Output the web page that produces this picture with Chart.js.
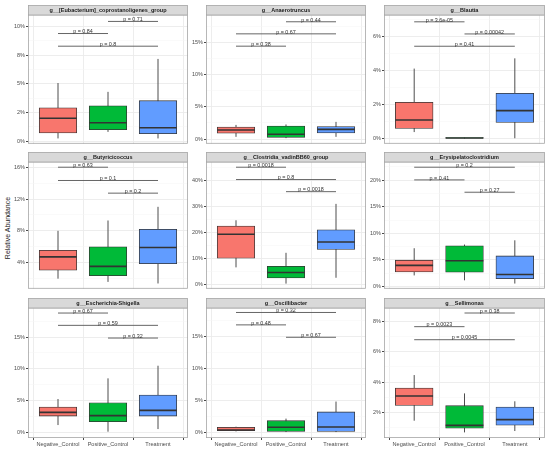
<!DOCTYPE html>
<html><head><meta charset="utf-8">
<script src="https://cdn.jsdelivr.net/npm/chart.js@4"></script>
<style>
html,body{margin:0;padding:0;background:#fff;}
#wrap{position:relative;width:550px;height:451px;overflow:hidden;background:#fff;}
canvas{position:absolute;}
#ytitle{position:absolute;left:7px;top:228px;transform:translate(-50%,-50%) rotate(-90deg);font:7px "Liberation Sans",Arial,sans-serif;color:#222;white-space:nowrap;}
</style></head><body>
<div id="wrap"><div id="ytitle">Relative Abundance</div></div>
<script>
const groups = ["Negative_Control","Positive_Control","Treatment"];
const groupColors = ["#F8766D","#00BA38","#619CFF"];
const panelTitles = [
  "g__[Eubacterium]_coprostanoligenes_group","g__Anaerotruncus","g__Blautia",
  "g__Butyricicoccus","g__Clostridia_vadinBB60_group","g__Erysipelatoclostridium",
  "g__Escherichia-Shigella","g__Oscillibacter","g__Sellimonas"
];
// values in percent, per panel: [Negative_Control, Positive_Control, Treatment]
const whiskerMin = [
  [0.23,0.80,0.23],[0.35,0.15,0.35],[0.38,0.00,0.02],
  [1.94,1.53,1.33],[6.5,0.25,2.5],[2.08,1.16,0.55],
  [1.2,0.16,0.57],[0.2,0.1,0.1],[1.45,0.68,0.77]
];
const quartile1 = [
  [0.71,0.99,0.65],[0.91,0.25,0.96],[0.59,0.00,0.95],
  [3.01,2.31,3.84],[10.0,2.4,13.4],[2.75,2.69,1.47],
  [2.61,1.72,2.61],[0.31,0.2,0.2],[2.46,0.95,1.16]
];
const medians = [
  [1.99,1.59,1.16],[1.41,0.76,1.51],[1.09,0.03,1.64],
  [4.7,3.5,5.89],[19.25,4.5,16.25],[3.98,4.83,2.26],
  [3.19,2.67,3.5],[0.42,0.84,0.89],[3.08,1.14,1.52]
];
const quartile3 = [
  [2.9,3.07,3.52],[1.86,2.01,1.96],[2.13,0.06,2.65],
  [5.52,5.97,8.19],[22.4,6.9,20.9],[4.95,7.65,5.75],
  [4.02,4.7,5.9],[0.84,1.88,3.25],[3.6,2.44,2.35]
];
const whiskerMax = [
  [5.06,4.29,7.16],[2.2,2.27,2.67],[4.1,0.06,4.7],
  [7.99,9.3,11.03],[24.6,12.1,30.9],[7.2,7.89,8.69],
  [5.28,8.52,10.5],[0.94,2.2,4.87],[4.46,3.25,2.73]
];
// comparisons: NC vs PC, NC vs T, PC vs T
const comparisonPairs = [[1,2],[1,3],[2,3]];
const bracketHeight = [
  [9.375,8.27,10.43],[14.4,16.31,18.18],[6.84,5.41,6.13],
  [16.04,14.36,12.76],[45.0,40.25,35.6],[20.06,22.45,17.74],
  [18.76,16.83,14.84],[16.86,18.8,14.92],[7.65,6.79,8.55]
];
const pLabels = [
  ["p = 0.84","p = 0.8","p = 0.71"],
  ["p = 0.38","p = 0.67","p = 0.44"],
  ["p = 3.6e-05","p = 0.41","p = 0.00042"],
  ["p = 0.63","p = 0.1","p = 0.2"],
  ["p = 0.0018","p = 0.8","p = 0.0018"],
  ["p = 0.41","p = 0.2","p = 0.27"],
  ["p = 0.67","p = 0.59","p = 0.32"],
  ["p = 0.48","p = 0.32","p = 0.67"],
  ["p = 0.0023","p = 0.0045","p = 0.38"]
];
const yMin = [-0.23,-0.71,-0.30,0.67,-1.7,-0.42,-0.83,-0.83,0.31];
const yMax = [10.99,19.23,7.24,16.70,47.0,23.43,19.55,19.5,8.88];
const yMajorTicks = [
  [0,2.5,5,7.5,10],[0,5,10,15],[0,2,4,6],
  [4,8,12,16],[0,10,20,30,40],[0,5,10,15,20],
  [0,5,10,15],[0,5,10,15],[2,4,6,8]
];
const yTickLabels = [
  ["0%","2%","5%","8%","10%"],["0%","5%","10%","15%"],["0%","2%","4%","6%"],
  ["4%","8%","12%","16%"],["0%","10%","20%","30%","40%"],["0%","5%","10%","15%","20%"],
  ["0%","5%","10%","15%"],["0%","5%","10%","15%"],["2%","4%","6%","8%"]
];
const yMinorTicks = [
  [1.25,3.75,6.25,8.75],[2.5,7.5,12.5,17.5],[1,3,5,7],
  [2,6,10,14],[5,15,25,35,45],[2.5,7.5,12.5,17.5,22.5],
  [2.5,7.5,12.5,17.5],[2.5,7.5,12.5,17.5],[1,3,5,7]
];

Chart.defaults.font.family = '"Liberation Sans", Arial, sans-serif';
Chart.defaults.animation = false;

const colLeft=[28,206,384], colWidth=[160,160,161];
const stripTop=[5,152,298], plotTop=[15,162,308], plotBottom=[147,292,438];
const AXW=18, STRIP=10;
const wrap=document.getElementById('wrap');

for (let i=0;i<9;i++){
  const r=Math.floor(i/3), c=i%3, last=(r===2);
  const XAH = last?12:1;
  const w = colWidth[c]+AXW+1;
  const h = plotBottom[r]-stripTop[r]+XAH;
  const cv=document.createElement('canvas');
  cv.width=w; cv.height=h;
  cv.style.left=(colLeft[c]-AXW)+'px'; cv.style.top=stripTop[r]+'px';
  cv.style.width=w+'px'; cv.style.height=h+'px';
  wrap.appendChild(cv);

  const whiskerData=[], medianData=[], boxData=[], bracketData=[];
  for (let g=0; g<3; g++){
    whiskerData.push({x:g+1,y:whiskerMin[i][g]},{x:g+1,y:whiskerMax[i][g]},{x:g+1.5,y:null});
    medianData.push({x:g+1-0.375,y:medians[i][g]},{x:g+1+0.375,y:medians[i][g]},{x:g+1.5,y:null});
    boxData.push({x:g+1,y:[quartile1[i][g],quartile3[i][g]]});
  }
  comparisonPairs.forEach((p,k)=>{
    bracketData.push({x:p[0],y:bracketHeight[i][k]},{x:p[1],y:bracketHeight[i][k]},{x:p[1]+0.01,y:null});
  });
  const allTicks = yMajorTicks[i].concat(yMinorTicks[i]).filter(v=>v>=yMin[i]&&v<=yMax[i]).sort((a,b)=>a-b);
  const isMajor = v => yMajorTicks[i].some(t=>Math.abs(t-v)<1e-9);

  const panelPlugin = {
    id:'panel'+i,
    afterDatasetsDraw(chart){
      const ctx=chart.ctx, xs=chart.scales.x, ys=chart.scales.y;
      ctx.save();
      ctx.font='5.4px "Liberation Sans", Arial, sans-serif';
      ctx.fillStyle='#333'; ctx.textAlign='center'; ctx.textBaseline='bottom';
      comparisonPairs.forEach((p,k)=>{
        const x=xs.getPixelForValue((p[0]+p[1])/2), y=ys.getPixelForValue(bracketHeight[i][k]);
        ctx.fillText(pLabels[i][k], x, y+1);
      });
      ctx.restore();
    },
    afterDraw(chart){
      const ctx=chart.ctx, a=chart.chartArea;
      ctx.save();
      ctx.strokeStyle='#A6A6A6'; ctx.lineWidth=0.8;
      ctx.strokeRect(a.left+0.4,a.top,a.right-a.left-0.8,a.bottom-a.top-0.4);
      ctx.fillStyle='#D9D9D9';
      ctx.fillRect(a.left+0.4,a.top-STRIP+0.4,a.right-a.left-0.8,STRIP-0.4);
      ctx.strokeRect(a.left+0.4,a.top-STRIP+0.4,a.right-a.left-0.8,STRIP-0.4);
      ctx.fillStyle='#1A1A1A'; ctx.font='bold 5.5px "Liberation Sans", Arial, sans-serif';
      ctx.textAlign='center'; ctx.textBaseline='middle';
      ctx.fillText(panelTitles[i],(a.left+a.right)/2,a.top-STRIP/2+0.5);
      ctx.restore();
    }
  };

  new Chart(cv,{
    type:'bar',
    data:{datasets:[
      {type:'line',data:whiskerData,borderColor:'#4D4D4D',borderWidth:1,pointRadius:0,fill:false,spanGaps:false,order:3},
      {type:'bar',data:boxData,backgroundColor:groupColors,borderColor:'#333',borderWidth:0.8,borderSkipped:false,barThickness:colWidth[c]*0.75/3.2,order:2},
      {type:'line',data:medianData,borderColor:'#333',borderWidth:1.6,pointRadius:0,fill:false,spanGaps:false,order:1},
      {type:'line',data:bracketData,borderColor:'#555',borderWidth:0.9,pointRadius:0,fill:false,spanGaps:false,order:0}
    ]},
    options:{
      responsive:false, maintainAspectRatio:false, animation:false,
      layout:{padding:{top:STRIP,left:0,right:1,bottom:0}},
      plugins:{legend:{display:false},tooltip:{enabled:false},title:{display:false}},
      events:[],
      scales:{
        x:{type:'linear',min:0.4,max:3.6,offset:false,
          afterBuildTicks:s=>{s.ticks=[{value:1},{value:2},{value:3}];},
          afterFit:s=>{s.height=XAH;},
          ticks:{display:last,callback:v=>groups[Math.round(v)-1],font:{size:5.6},color:'#4D4D4D',padding:1,autoSkip:false,maxRotation:0,minRotation:0},
          grid:{color:'#EBEBEB',lineWidth:0.9,drawTicks:last,tickLength:2,tickColor:'#333'},
          border:{display:false}
        },
        y:{type:'linear',min:yMin[i],max:yMax[i],
          afterBuildTicks:s=>{s.ticks=allTicks.map(v=>({value:v}));},
          afterFit:s=>{s.width=AXW;},
          ticks:{callback:v=>{const k=yMajorTicks[i].findIndex(t=>Math.abs(t-v)<1e-9);return k>=0?yTickLabels[i][k]:'';},
            font:{size:5.5},color:'#4D4D4D',padding:1,autoSkip:false},
          grid:{color:ctx=>isMajor(ctx.tick.value)?'#EBEBEB':'#F5F5F5',lineWidth:ctx=>isMajor(ctx.tick.value)?0.9:0.5,
            drawTicks:true,tickLength:2,tickColor:ctx=>isMajor(ctx.tick.value)?'#333':'rgba(0,0,0,0)'},
          border:{display:false}
        }
      }
    },
    plugins:[panelPlugin]
  });
}
</script>
</body></html>
